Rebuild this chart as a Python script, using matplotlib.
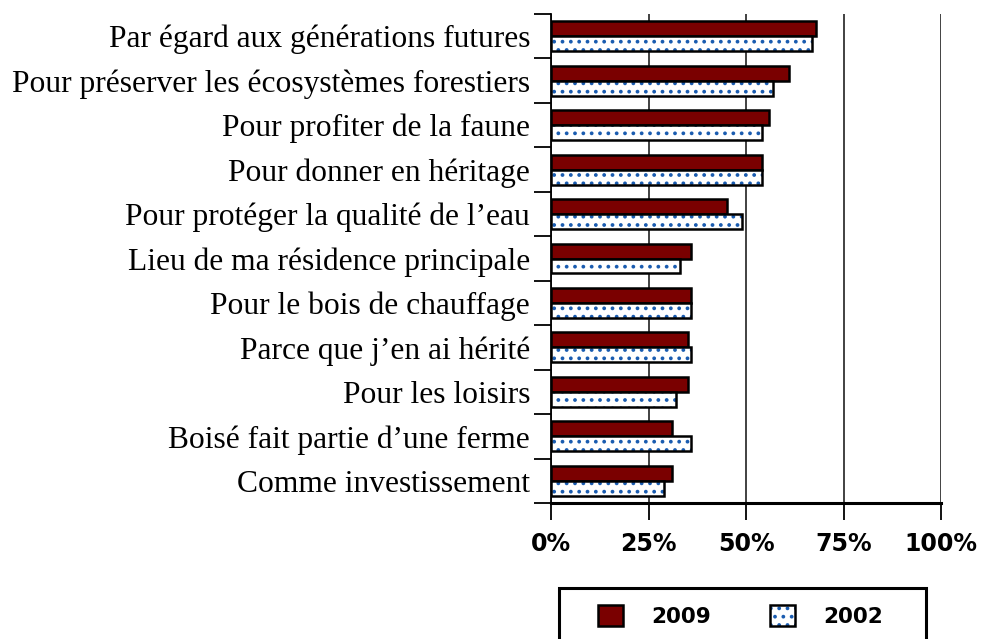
import matplotlib
matplotlib.use("Agg")
import matplotlib.pyplot as plt
from matplotlib.patches import Rectangle, Patch
from matplotlib.legend_handler import HandlerTuple
import numpy as np

categories = [
    "Par égard aux générations futures",
    "Pour préserver les écosystèmes forestiers",
    "Pour profiter de la faune",
    "Pour donner en héritage",
    "Pour protéger la qualité de l’eau",
    "Lieu de ma résidence principale",
    "Pour le bois de chauffage",
    "Parce que j’en ai hérité",
    "Pour les loisirs",
    "Boisé fait partie d’une ferme",
    "Comme investissement",
]
values_2009 = [68, 61, 56, 54, 45, 36, 36, 35, 35, 31, 31]
values_2002 = [67, 57, 54, 54, 49, 33, 36, 36, 32, 36, 29]
series_labels = ["2009", "2002"]
xticks = [0, 25, 50, 75, 100]
xtick_labels = ["0%", "25%", "50%", "75%", "100%"]

RED = "#7a0000"
BLUE = "#1a5cb0"
plt.rcParams["hatch.linewidth"] = 1.5

fig = plt.figure(figsize=(9.81, 6.39), dpi=100)
W, H = 981, 639
left, right, top, bottom = 551, 941, 14, 503
ax = fig.add_axes([left / W, 1 - bottom / H, (right - left) / W, (bottom - top) / H])

n = len(categories)
y = np.arange(n)
h = 0.337
ax.barh(y - h / 2, values_2009, height=h, color=RED, edgecolor="black", linewidth=1.8, zorder=3)
ax.barh(y + h / 2, values_2002, height=h, color="white", edgecolor=BLUE, linewidth=0, hatch="..", zorder=3)
ax.barh(y + h / 2, values_2002, height=h, color="none", edgecolor="black", linewidth=1.8, zorder=4)

ax.set_xlim(0, 100)
ax.set_ylim(n - 0.5, -0.5)
ax.set_xticks(xticks)
ax.set_xticklabels(xtick_labels, fontfamily="DejaVu Sans", fontweight="bold", fontsize=17)
ax.set_yticks(np.arange(n + 1) - 0.5)
ax.set_yticklabels([])
ax.set_yticks(y, minor=True)
ax.set_yticklabels(categories, minor=True, fontfamily="Liberation Serif", fontsize=22.7)
ax.tick_params(axis="y", which="minor", length=0, pad=15)
ax.tick_params(axis="y", which="major", length=12, width=1.3, direction="out")
ax.tick_params(axis="x", length=12, width=1.3, direction="out", pad=9)
ax.grid(axis="x", color="#333333", linewidth=1.3, zorder=0)
for s in ["top", "right"]:
    ax.spines[s].set_visible(False)
ax.spines["left"].set_linewidth(1.3)
ax.spines["bottom"].set_linewidth(2.2)

# legend frame
frame = Rectangle((559 / W, 1 - 660 / H), (926 - 559) / W, (660 - 588) / H,
                  transform=fig.transFigure, facecolor="white", edgecolor="black",
                  linewidth=2.2, clip_on=False)
fig.patches.append(frame)

h09 = Patch(facecolor=RED, edgecolor="black", linewidth=1.8)
h02a = Patch(facecolor="white", edgecolor=BLUE, linewidth=0, hatch="..")
h02b = Patch(facecolor="none", edgecolor="black", linewidth=1.8)
fig.legend([h09, (h02a, h02b)], series_labels, handler_map={tuple: HandlerTuple(ndivide=1)},
           loc="center", bbox_to_anchor=(740.5 / W, 1 - 616 / H), ncol=2, frameon=False,
           prop={"family": "DejaVu Sans", "weight": "bold", "size": 15.5},
           handlelength=1.16, handleheight=1.16, columnspacing=2.75, handletextpad=1.3)

fig.savefig("out.png", dpi=100)
